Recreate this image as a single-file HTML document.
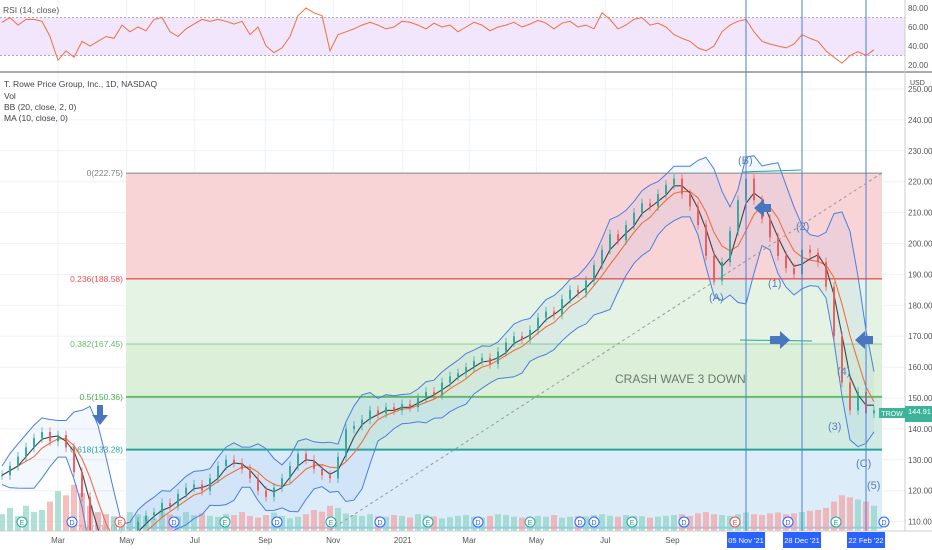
<!DOCTYPE html>
<html><head><meta charset="utf-8">
<style>
html,body{margin:0;padding:0;background:#fff;width:932px;height:550px;overflow:hidden;}
body{font-family:"Liberation Sans",sans-serif;position:relative;}
svg{display:block;}
svg text{font-family:"Liberation Sans",sans-serif;}
</style></head>
<body>
<svg id="chart" width="932" height="550" viewBox="0 0 932 550" xmlns="http://www.w3.org/2000/svg" style="position:absolute;left:0;top:0">
<defs><clipPath id="plot"><rect x="0" y="74" width="905" height="457"/></clipPath></defs>
<g id="grid"></g>
<g id="fib"></g>
<g id="vol" clip-path="url(#plot)"></g>
<g id="bb" clip-path="url(#plot)"></g>
<g id="ma" clip-path="url(#plot)"></g>
<g id="candles" clip-path="url(#plot)"></g>
<g id="rsi"></g>
<g id="ann"></g>
<g id="axes"></g>
</svg>
<script>
// ---- data ----
const closes = [125,128,131,134,137,139,136,138,134,126,118,105,100,98,102,104,106,110,112,113,116,115,119,121,122,120,124,128,130,129,127,124,120,118,121,124,128,132,130,127,125,124,131,140,141,143,146,145,147,146,148,147,150,152,151,155,157,158,160,162,163,161,165,168,170,169,172,176,178,177,182,185,184,188,193,198,203,201,206,210,213,212,216,219,221,216,212,206,196,188,194,204,214,221,214,208,202,196,192,190,198,197,194,186,170,155,146,152,145,146];
const volumes = [40,55,35,60,45,50,70,95,85,110,90,60,45,40,35,30,45,40,35,30,50,40,35,45,38,42,36,34,40,38,45,36,32,38,44,36,30,34,40,50,46,60,55,42,38,36,40,35,34,38,36,32,40,38,35,30,33,36,38,34,32,36,40,38,34,32,30,36,34,38,32,34,36,35,38,40,36,34,38,36,35,32,34,36,38,40,36,42,45,40,38,36,40,44,40,38,42,44,40,42,45,48,50,55,70,85,80,75,70,60];
const rsiValues = [65,70,62,68,68,66,50,25,35,28,45,40,45,50,48,62,55,60,56,68,70,55,50,58,63,68,66,68,66,63,66,52,60,40,33,38,50,72,80,75,72,35,52,55,58,62,65,62,58,60,66,65,62,58,64,60,62,55,60,65,62,56,60,62,65,60,63,67,64,58,64,66,60,62,58,75,68,58,62,68,70,62,64,60,52,48,45,38,35,40,55,62,66,68,55,45,42,40,38,42,52,48,45,35,28,22,30,34,30,36];
const priceTicks = [250,240,230,220,210,200,190,180,170,160,150,140,130,120,110];
const rsiTicks = [80,60,40,20];
const monthLabels = ["Mar","May","Jul","Sep","Nov","2021","Mar","May","Jul","Sep"];
const monthIdx = [7,15.6,24.1,32.9,41.4,50.1,58.4,66.8,75.4,83.8];
const fibLevels = [0,0.236,0.382,0.5,0.618,0.786];
const fibPrices = [222.75,188.58,167.45,150.36,133.28,108.0];
const markerDates = ["05 Nov '21","28 Dec '21","22 Feb '22"];
const markerIdx = [93,100,108];

// ---- scales ----
const NS="http://www.w3.org/2000/svg";
const X0=2, STEP=8;
function xs(i){return X0+i*STEP;}
function py(p){return 181.7+(220-p)*3.09;}
function ry(v){return 8+(80-v)*0.95;}
function vy(v){return 531-v*0.42;}
function mk(tag,attrs,parent){const e=document.createElementNS(NS,tag);for(const k in attrs)e.setAttribute(k,attrs[k]);parent.appendChild(e);return e;}
const G=id=>document.getElementById(id);

const grid=G('grid');
priceTicks.forEach(p=>{const l=mk('line',{x1:0,x2:905,y1:py(p),y2:py(p),stroke:'#eef2f7'},grid);});
monthIdx.forEach(m=>{const l=mk('line',{x1:xs(m),x2:xs(m),y1:0,y2:531,stroke:'#eef2f7'},grid);});

const fib=G('fib');
const fibFill=['#f8d4d7','#e4f3e3','#dcefd9','#d1ebe2','#dcecf9'];
const fibLine=['#9aa3a0','#ef5350','#a5d6a7','#66bb6a','#26a69a','#90caf9'];
const fibText=['#808080','#ef5350','#66bb6a','#4caf50','#26a69a','#9aa0b0'];
const FX1=126,FX2=882;
for(let k=0;k<5;k++){const r=mk('rect',{x:FX1,y:py(fibPrices[k]),width:FX2-FX1,height:py(fibPrices[k+1])-py(fibPrices[k]),fill:fibFill[k]},fib);}
fibLevels.forEach((f,k)=>{
 const y=py(fibPrices[k]);
 const l=mk('line',{x1:FX1,x2:FX2,y1:y,y2:y,stroke:fibLine[k],'stroke-width':k>=3?2:1.3},fib);
 
 const t=mk('text',{x:123,y:y+3,'text-anchor':'end','font-size':8.5,fill:fibText[k]},fib);
 t.textContent=f+'('+fibPrices[k].toFixed(2)+')';
 
});

const vol=G('vol');
volumes.forEach((v,i)=>{const up=i===0||closes[i]>=closes[i-1];
 const r=mk('rect',{x:xs(i)-3,y:vy(v),width:6,height:531-vy(v),fill:up?'#8fd3c4':'#f4a3a3',opacity:0.7},vol);
 });

function sma(n){return closes.map((c,i)=>{const s=closes.slice(Math.max(0,i-n+1),i+1);return s.reduce((a,b)=>a+b,0)/s.length;});}
const ma5=sma(3);
const bbMid=sma(5);
const bbStd=closes.map((c,i)=>{const s=closes.slice(Math.max(0,i-4),i+1);const m=bbMid[i];return Math.sqrt(s.reduce((a,b)=>a+(b-m)*(b-m),0)/s.length)*0.85+1.5;});
function path(arr){return arr.map((v,i)=>(i?'L':'M')+xs(i).toFixed(1)+','+py(v).toFixed(1)).join('');}
const bb=G('bb');
const up=bbMid.map((m,i)=>m+2*bbStd[i]), dn=bbMid.map((m,i)=>m-2*bbStd[i]);
let fillD=path(up)+dn.map((v,i)=>'L'+xs(i)+','+py(v)).reverse().join('')+'Z';
const bf=mk('path',{d:fillD,fill:'#5b8def',opacity:0.07},bb);
const bu=mk('path',{d:path(up),fill:'none',stroke:'#4a7fe0','stroke-width':1},bb);
const bl=mk('path',{d:path(dn),fill:'none',stroke:'#4a7fe0','stroke-width':1},bb);
const ma=G('ma');
const m1=mk('path',{d:path(bbMid),fill:'none',stroke:'#f0703c','stroke-width':1.1},ma);
const m2=mk('path',{d:path(ma5),fill:'none',stroke:'#444','stroke-width':1.1},ma);

const cg=G('candles');
closes.forEach((c,i)=>{const o=i?closes[i-1]:c;const upC=c>=o;const col=upC?'#26a69a':'#ef5350';
 const hi=Math.max(o,c)+1.5, lo=Math.min(o,c)-1.5;
 const w=mk('line',{x1:xs(i),x2:xs(i),y1:py(hi),y2:py(lo),stroke:col,'stroke-width':0.7},cg);
 const b=mk('rect',{x:xs(i)-1,y:py(Math.max(o,c)),width:2,height:Math.max(1,Math.abs(py(o)-py(c))),fill:col,opacity:0.85},cg);});

const rg=G('rsi');
const rb=mk('rect',{x:0,y:ry(70),width:905,height:ry(30)-ry(70),fill:'#f1e6fb'},rg);
[70,30].forEach(v=>{const l=mk('line',{x1:0,x2:905,y1:ry(v),y2:ry(v),stroke:'#b0a8b8','stroke-dasharray':'2,2'},rg);});
const rl=mk('path',{d:rsiValues.map((v,i)=>(i?'L':'M')+xs(i)+','+ry(v).toFixed(1)).join(''),fill:'none',stroke:'#f0703c','stroke-width':1},rg);

const rt=mk('text',{x:3,y:13,'font-size':8.5,fill:'#555'},rg);rt.textContent='RSI (14, close)';
mk('line',{x1:0,x2:932,y1:72,y2:72,stroke:'#aaa','stroke-width':2},rg);

const ax=G('axes');
mk('line',{x1:905,x2:905,y1:0,y2:531,stroke:'#ccc'},ax);
mk('line',{x1:0,x2:932,y1:531,y2:531,stroke:'#ccc'},ax);
priceTicks.forEach(p=>{const t=mk('text',{x:908,y:py(p)+3,'font-size':8,fill:'#555'},ax);t.textContent=p.toFixed(2);});
rsiTicks.forEach(v=>{const t=mk('text',{x:908,y:ry(v)+3,'font-size':8,fill:'#555'},ax);t.textContent=v.toFixed(2);});
monthLabels.forEach((m,k)=>{const t=mk('text',{x:xs(monthIdx[k]),y:543,'font-size':8,fill:'#555','text-anchor':'middle'},ax);t.textContent=m;});
markerDates.forEach((d,k)=>{const x=xs(markerIdx[k]);
 const l=mk('line',{x1:x,x2:x,y1:0,y2:531,stroke:'#4a7fe0','stroke-width':1},ax);
 const r=mk('rect',{x:x-19,y:532,width:38,height:16,fill:'#2962ff'},ax);
 const t=mk('text',{x:x,y:543,'font-size':7.5,fill:'#fff','text-anchor':'middle'},ax);t.textContent=d;});
</script>
<svg style="position:absolute;left:0;top:0" width="932" height="550">
 <g font-family="Liberation Sans, sans-serif" font-size="8.5" fill="#444">
  <text x="4" y="87">T. Rowe Price Group, Inc., 1D, NASDAQ</text>
  <text x="4" y="99">Vol</text>
  <text x="4" y="110">BB (20, close, 2, 0)</text>
  <text x="4" y="121">MA (10, close, 0)</text>
  <text x="910" y="85" font-size="7">USD</text>
 </g>
 <line x1="330" y1="530" x2="882" y2="173" stroke="#999" stroke-dasharray="3,3"/>
 <line x1="743" y1="172" x2="801" y2="170" stroke="#26a69a"/>
 <line x1="740" y1="340" x2="812" y2="341" stroke="#26a69a"/>
 <g fill="#5b7fbf" font-family="Liberation Sans, sans-serif" font-size="11">
  <text x="615" y="383" font-size="12" fill="#6a7a70">CRASH  WAVE 3 DOWN</text>
  <text x="738" y="164">(B)</text>
  <text x="709" y="301">(A)</text>
  <text x="768" y="287">(1)</text>
  <text x="796" y="230">(2)</text>
  <text x="828" y="430">(3)</text>
  <text x="837" y="375">(4)</text>
  <text x="856" y="467">(C)</text>
  <text x="867" y="489">(5)</text>
 </g>
 <g fill="#4a76c0">
  <path d="M97,405 h6 v10 h5 l-8,10 l-8,-10 h5z"/>
  <path d="M754,208 l10,-9 v5 h7 v8 h-7 v5z"/>
  <path d="M790,340 l-10,-9 v5 h-10 v8 h10 v5z"/>
  <path d="M855,340 l10,-9 v5 h8 v8 h-8 v5z"/>
 </g>
 <rect x="879" y="408" width="26" height="10" fill="#3db39a"/>
 <text x="892" y="416" font-size="7" fill="#fff" text-anchor="middle" font-family="Liberation Sans, sans-serif">TROW</text>
 <rect x="905" y="406" width="27" height="16" fill="#3db39a"/>
 <text x="908" y="414" font-size="7.5" fill="#fff" font-family="Liberation Sans, sans-serif">144.91</text>
 <g font-family="Liberation Sans, sans-serif" font-size="7" text-anchor="middle">
  <g>
   <circle cx="22" cy="522" r="5" fill="#fff" stroke="#26a69a"/><text x="22" y="525" fill="#26a69a">E</text>
   <circle cx="72" cy="522" r="5" fill="#fff" stroke="#2962ff"/><text x="72" y="525" fill="#2962ff">D</text>
   <circle cx="120" cy="522" r="5" fill="#fff" stroke="#ef5350"/><text x="120" y="525" fill="#ef5350">E</text>
   <circle cx="174" cy="522" r="5" fill="#fff" stroke="#2962ff"/><text x="174" y="525" fill="#2962ff">D</text>
   <circle cx="225" cy="522" r="5" fill="#fff" stroke="#26a69a"/><text x="225" y="525" fill="#26a69a">E</text>
   <circle cx="277" cy="522" r="5" fill="#fff" stroke="#2962ff"/><text x="277" y="525" fill="#2962ff">D</text>
   <circle cx="331" cy="522" r="5" fill="#fff" stroke="#26a69a"/><text x="331" y="525" fill="#26a69a">E</text>
   <circle cx="380" cy="522" r="5" fill="#fff" stroke="#2962ff"/><text x="380" y="525" fill="#2962ff">D</text>
   <circle cx="428" cy="522" r="5" fill="#fff" stroke="#26a69a"/><text x="428" y="525" fill="#26a69a">E</text>
   <circle cx="478" cy="522" r="5" fill="#fff" stroke="#2962ff"/><text x="478" y="525" fill="#2962ff">D</text>
   <circle cx="530" cy="522" r="5" fill="#fff" stroke="#26a69a"/><text x="530" y="525" fill="#26a69a">E</text>
   <circle cx="580" cy="522" r="5" fill="#fff" stroke="#2962ff"/><text x="580" y="525" fill="#2962ff">D</text>
   <circle cx="594" cy="522" r="5" fill="#fff" stroke="#2962ff"/><text x="594" y="525" fill="#2962ff">D</text>
   <circle cx="632" cy="522" r="5" fill="#fff" stroke="#26a69a"/><text x="632" y="525" fill="#26a69a">E</text>
   <circle cx="684" cy="522" r="5" fill="#fff" stroke="#2962ff"/><text x="684" y="525" fill="#2962ff">D</text>
   <circle cx="735" cy="522" r="5" fill="#fff" stroke="#ef5350"/><text x="735" y="525" fill="#ef5350">E</text>
   <circle cx="788" cy="522" r="5" fill="#fff" stroke="#2962ff"/><text x="788" y="525" fill="#2962ff">D</text>
   <circle cx="836" cy="522" r="5" fill="#fff" stroke="#26a69a"/><text x="836" y="525" fill="#26a69a">E</text>
   <circle cx="884" cy="522" r="5" fill="#fff" stroke="#2962ff"/><text x="884" y="525" fill="#2962ff">D</text>
  </g>
 </g>
</svg>
</body></html>
